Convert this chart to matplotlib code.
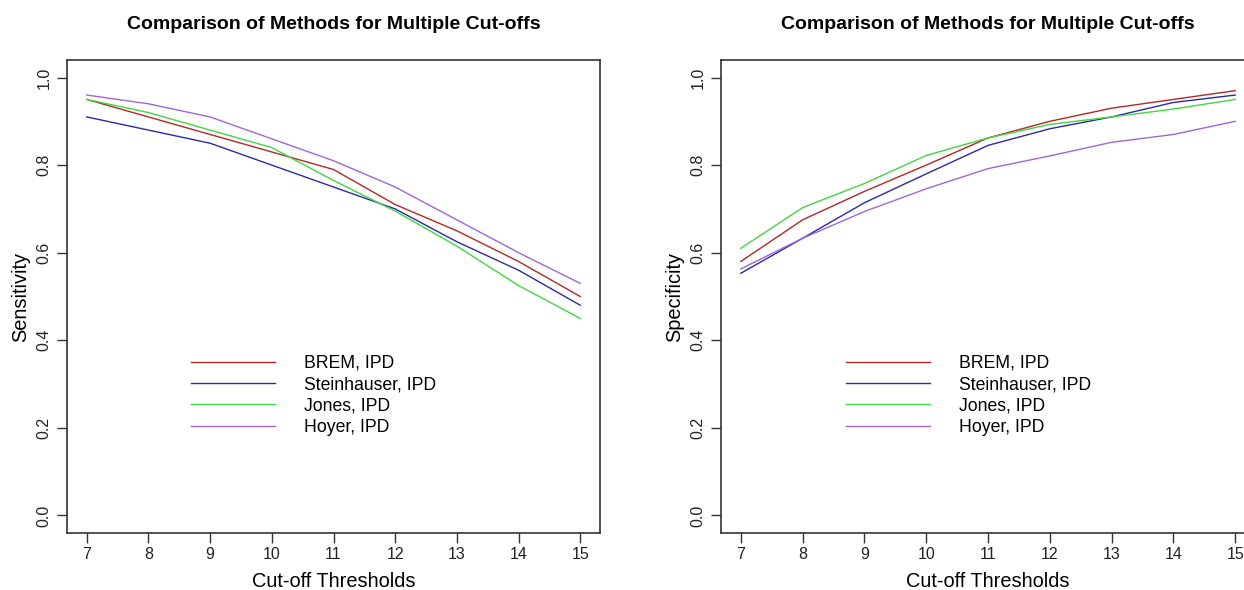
import matplotlib
matplotlib.use("Agg")
import matplotlib.pyplot as plt

plt.rcParams['font.family'] = ['Liberation Sans', 'DejaVu Sans']

# Cut-off thresholds
cutoffs = [7, 8, 9, 10, 11, 12, 13, 14, 15]

methods = ['BREM, IPD', 'Steinhauser, IPD', 'Jones, IPD', 'Hoyer, IPD']
colors = ['#b52626', '#2a2aa6', '#3fd83f', '#a266d4']

# Sensitivity per method
sens_brem = [0.95, 0.91, 0.87, 0.83, 0.79, 0.71, 0.65, 0.58, 0.50]
sens_stein = [0.91, 0.88, 0.85, 0.80, 0.75, 0.70, 0.625, 0.56, 0.48]
sens_jones = [0.95, 0.92, 0.88, 0.84, 0.765, 0.695, 0.615, 0.525, 0.45]
sens_hoyer = [0.96, 0.94, 0.91, 0.86, 0.81, 0.75, 0.675, 0.60, 0.53]

# Specificity per method
spec_brem = [0.58, 0.675, 0.74, 0.80, 0.862, 0.90, 0.93, 0.95, 0.97]
spec_stein = [0.553, 0.633, 0.714, 0.78, 0.845, 0.883, 0.91, 0.943, 0.96]
spec_jones = [0.61, 0.703, 0.758, 0.822, 0.862, 0.893, 0.91, 0.928, 0.95]
spec_hoyer = [0.563, 0.633, 0.694, 0.746, 0.792, 0.821, 0.852, 0.87, 0.90]

sens = [sens_brem, sens_stein, sens_jones, sens_hoyer]
spec = [spec_brem, spec_stein, spec_jones, spec_hoyer]

fig = plt.figure(figsize=(12.44, 5.90), dpi=100)
ax1 = fig.add_axes([67 / 1244, 0.0966, 533 / 1244, 0.8017])
ax2 = fig.add_axes([721 / 1244, 0.0966, 534 / 1244, 0.8017])


def style(ax, ylabel, leg_x):
    ax.set_xlim(6.68, 15.32)
    ax.set_ylim(-0.04, 1.04)
    ax.set_xticks(cutoffs)
    ax.set_yticks([0.0, 0.2, 0.4, 0.6, 0.8, 1.0])
    ax.set_yticklabels(['0.0', '0.2', '0.4', '0.6', '0.8', '1.0'],
                       rotation=90, va='center')
    ax.tick_params(labelsize=11.5, length=7, width=1, color='#333333',
                   labelcolor='#222222', pad=4)
    ax.tick_params(axis='x', pad=3)
    for s in ax.spines.values():
        s.set_linewidth(1.2)
        s.set_color('#333333')
    ax.set_title('Comparison of Methods for Multiple Cut-offs',
                 fontsize=14, fontweight='bold', pad=22)
    ax.set_xlabel('Cut-off Thresholds', fontsize=14.4, labelpad=7)
    ax.set_ylabel(ylabel, fontsize=14.4, labelpad=5)
    ax.legend(frameon=False, fontsize=12.7, handlelength=4.8,
              handletextpad=1.6, labelspacing=0.25, borderpad=0,
              loc='upper left', bbox_to_anchor=(leg_x / 1244, 1 - 346 / 590),
              bbox_transform=fig.transFigure)


for vals, c, m in zip(sens, colors, methods):
    ax1.plot(cutoffs, vals, color=c, lw=1.0, label=m)
for vals, c, m in zip(spec, colors, methods):
    ax2.plot(cutoffs, vals, color=c, lw=1.0, label=m)

style(ax1, 'Sensitivity', 182)
style(ax2, 'Specificity', 837)

fig.savefig('out.png', dpi=100)
